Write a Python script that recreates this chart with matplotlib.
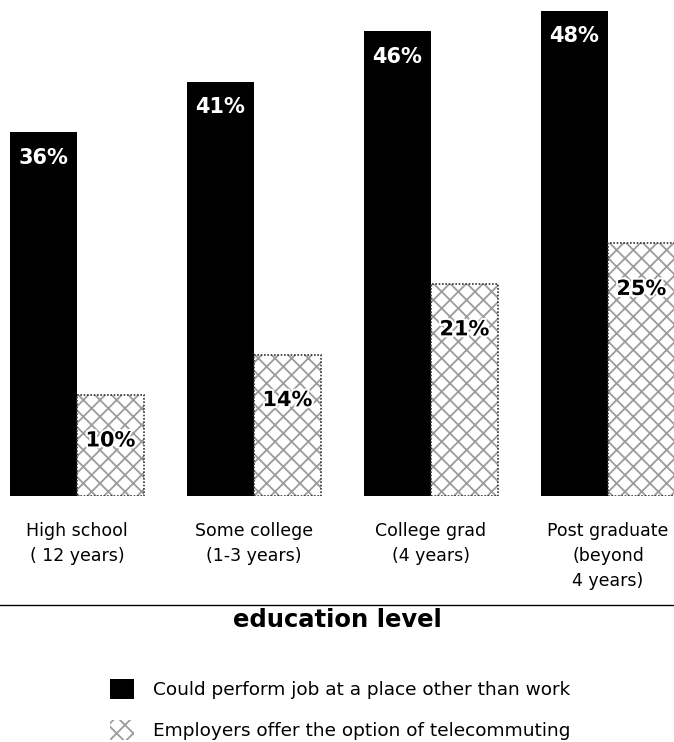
import numpy as np
import matplotlib.pyplot as plt
import matplotlib.patheffects as pe

categories = ['High school\n( 12 years)', 'Some college\n(1-3 years)',
              'College grad\n(4 years)', 'Post graduate\n(beyond\n4 years)']
could_perform = [36, 41, 46, 48]
employers_offer = [10, 14, 21, 25]
series_names = ['Could perform job at a place other than work',
                'Employers offer the option of telecommuting']

plt.rcParams['font.family'] = ['DejaVu Sans']
plt.rcParams['hatch.linewidth'] = 1.3
fig = plt.figure(figsize=(6.74, 7.42), dpi=100)
ax = fig.add_axes([0, 0.3315, 1, 0.6685])

x = np.arange(len(categories))
w = 0.378
b1 = ax.bar(x - w / 2, could_perform, w, color='black', label=series_names[0])
b2 = ax.bar(x + w / 2, employers_offer, w, color='white', edgecolor='#9c9c9c',
            hatch='xx', linewidth=0, label=series_names[1])
ax.bar(x + w / 2, employers_offer, w, fill=False, edgecolor='#333333',
       linewidth=1.2, linestyle=(0, (1, 1)))

for xi, v in zip(x, could_perform):
    ax.text(xi - w / 2, v - 2.5, f'{v}%', color='white', fontsize=15,
            fontweight='bold', ha='center', va='center')
for xi, v in zip(x, employers_offer):
    ax.text(xi + w / 2, v - 4.5, f'{v}%', color='black', fontsize=15,
            fontweight='bold', ha='center', va='center',
            path_effects=[pe.withStroke(linewidth=3, foreground='white')])

ax.set_xlim(-0.435, 3.373)
ax.set_ylim(0, 49.1)
ax.axis('off')

for xi, lab in enumerate(categories):
    ax.text(xi, -2.6, lab, fontsize=12.5, ha='center', va='top',
            linespacing=1.5, multialignment='center')

fig.add_artist(plt.Line2D([0, 1], [1 - 605 / 742, 1 - 605 / 742],
                          color='black', linewidth=1))
fig.text(0.5, 1 - 620 / 742, 'education level', fontsize=17.5,
         fontweight='bold', ha='center', va='center')

leg = fig.legend(handles=[b1, b2], loc='upper left',
                 bbox_to_anchor=(101 / 674, 1 - 670 / 742), frameon=False,
                 fontsize=13.3, handlelength=1.3, handleheight=1.3,
                 handletextpad=1.0, labelspacing=1.1, borderpad=0)

fig.savefig('out.png', dpi=100)
